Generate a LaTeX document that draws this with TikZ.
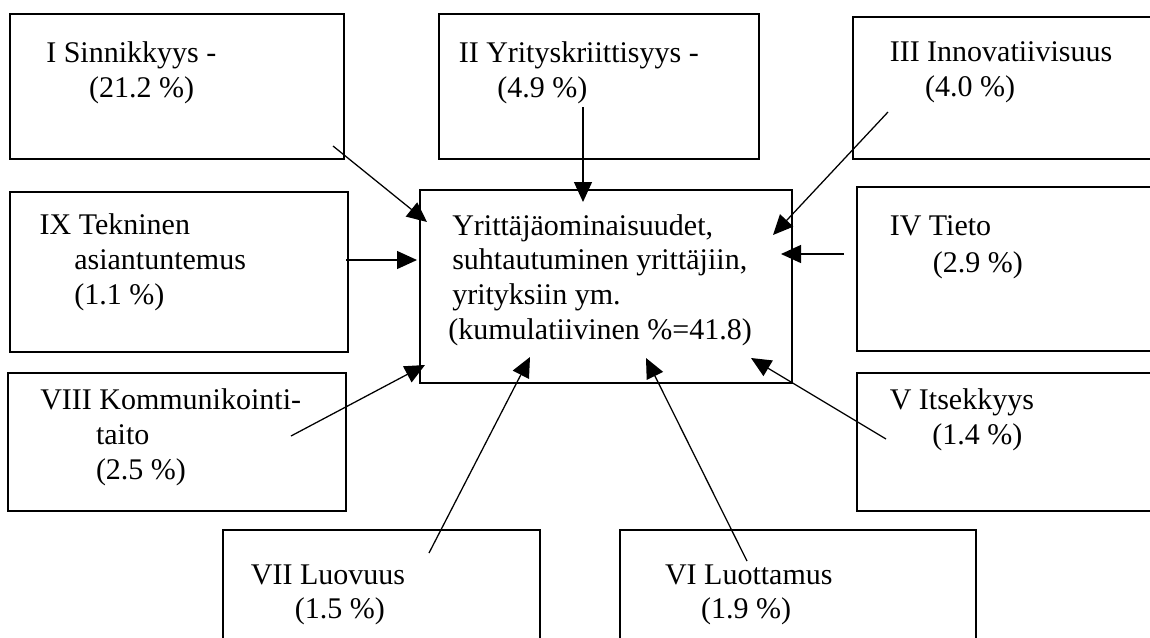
\documentclass[tikz,border=0pt]{standalone}
\usepackage{fontspec}
\setmainfont{Liberation Serif}
\usetikzlibrary{arrows.meta}
\newcommand\pbox[5]{\node[box, minimum width={(#4-#2)*0.75pt}, minimum height={(#5-#3)*0.75pt}] (#1) at ({(#2+#4)/2},{(#3+#5)/2}) {};}
\begin{document}
\begin{tikzpicture}[x=0.75pt,y=-0.75pt,
  box/.style={draw, line width=1pt, inner sep=0pt, outer sep=0pt},
  lbl/.style={anchor=base west, inner sep=0pt, align=left, font=\fontsize{22.5pt}{26pt}\selectfont},
  arr/.style={-{Triangle[length=15pt,width=13.5pt]}, line width=0.95pt}]
\useasboundingbox (0,0) rectangle (1150,637);
\clip (0,0) rectangle (1150,637);
% boxes
\pbox{bI}{10}{14}{344}{159}
\pbox{bII}{439}{14}{759}{159}
\pbox{bIII}{853}{17}{1170}{159}
\pbox{bC}{420}{190}{792}{383}
\pbox{bIX}{10}{192}{348}{352}
\pbox{bIV}{857}{187}{1170}{351}
\pbox{bVIII}{8}{373}{346}{511}
\pbox{bV}{857}{373}{1170}{511}
\pbox{bVII}{223}{530}{540}{660}
\pbox{bVI}{620}{530}{976}{660}
% texts (anchored at the baseline of their last line)
\node[lbl] (tI) at (46,97) {I Sinnikkyys -\\\hspace*{32.2pt}(21.2 \%)};
\node[lbl] (tII) at (458.5,97) {II Yrityskriittisyys -\\\hspace*{29pt}(4.9 \%)};
\node[lbl] (tIII) at (889.5,96) {III Innovatiivisuus\\\hspace*{26.6pt}(4.0 \%)};
\node[lbl] (tIX) at (39.4,304) {IX Tekninen\\\hspace*{26pt}asiantuntemus\\\hspace*{26pt}(1.1 \%)};
\node[lbl] (tIV) at (889.5,272) {IV Tieto\\[1.5pt]\hspace*{32.4pt}(2.9 \%)};
\node[lbl] (tC) at (448,339) {\hspace*{3pt}Yrittäjäominaisuudet,\\\hspace*{3pt}suhtautuminen yrittäjiin,\\\hspace*{3pt}yrityksiin ym.\\(kumulatiivinen \%=41.8)};
\node[lbl] (tVIII) at (40,479) {VIII Kommunikointi-\\\hspace*{41.8pt}taito\\\hspace*{41.8pt}(2.5 \%)};
\node[lbl] (tV) at (889.5,444) {V Itsekkyys\\\hspace*{31.9pt}(1.4 \%)};
\node[lbl] (tVII) at (250.7,618) {VII Luovuus\\[-1pt]\hspace*{33pt}(1.5 \%)};
\node[lbl] (tVI) at (664.8,618) {VI Luottamus\\[-1pt]\hspace*{27pt}(1.9 \%)};
% arrow end points
\coordinate (sI) at (333,146);   \coordinate (eI) at (427,222);
\coordinate (sII) at (583,107);  \coordinate (eII) at (583,202);
\coordinate (sIII) at (888,112); \coordinate (eIII) at (773,235);
\coordinate (sIX) at (346,260);  \coordinate (eIX) at (417,260);
\coordinate (sIV) at (844,254);  \coordinate (eIV) at (781,254);
\coordinate (sVIII) at (291,436);\coordinate (eVIII) at (425,365);
\coordinate (sVII) at (429,553); \coordinate (eVII) at (530,357);
\coordinate (sVI) at (747,561);  \coordinate (eVI) at (646,358);
\coordinate (sV) at (886,439);   \coordinate (eV) at (751,358);
\foreach \k in {I,II,III,IX,IV,VIII,VII,VI,V}{\draw[arr] (s\k) -- (e\k);}
\end{tikzpicture}
\end{document}
